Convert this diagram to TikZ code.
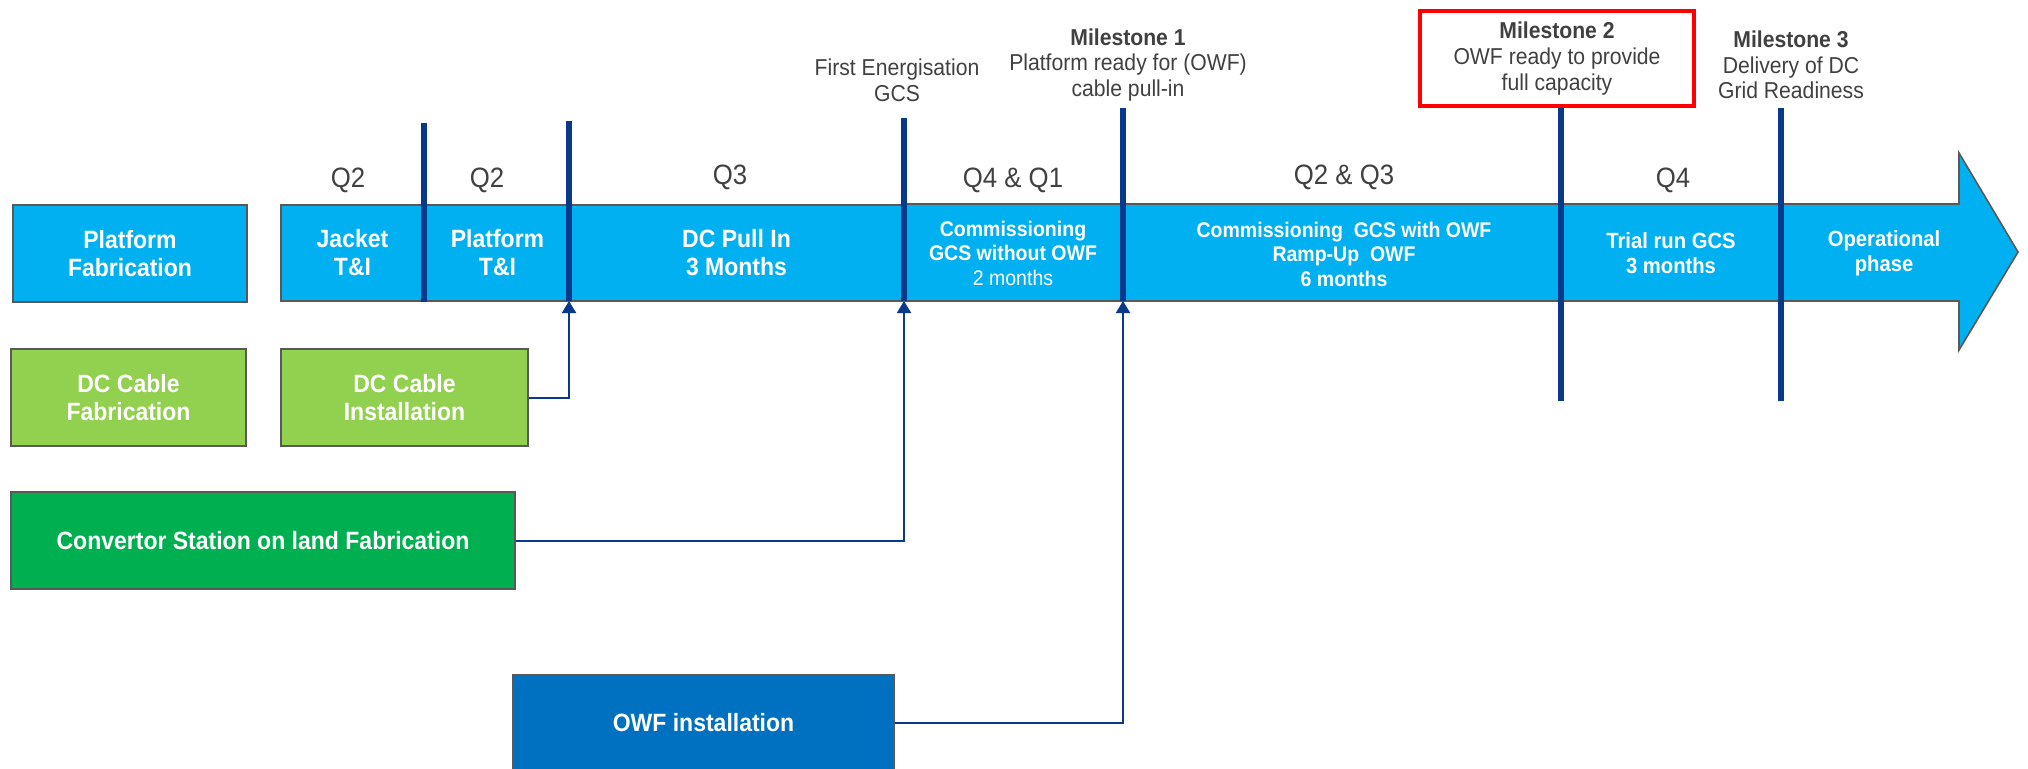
\documentclass[tikz,border=0pt]{standalone}
\usepackage{fontspec}
\setmainfont[FakeStretch=0.92]{Liberation Sans}
\usepackage{xcolor}
\usetikzlibrary{arrows.meta}
\definecolor{barblue}{HTML}{00B0F0}
\definecolor{lgreen}{HTML}{92D050}
\definecolor{dgreen}{HTML}{00B050}
\definecolor{owfblue}{HTML}{0070C0}
\definecolor{mkblue}{HTML}{08398A}
\definecolor{edgegray}{HTML}{595959}
\definecolor{labgray}{HTML}{404040}
\tikzset{taskbox/.style={draw=edgegray,line width=0.8pt,text=white,align=center,inner sep=0pt,
    font=\bfseries\fontsize{12.5}{14}\selectfont}}
\tikzset{barseg/.style={taskbox,fill=barblue,minimum height=48pt}}
\tikzset{bartext/.style={text=white,align=center,font=\bfseries\fontsize{10.6}{12.25}\selectfont}}
\tikzset{marker/.style={mkblue,line width=3pt}}
\tikzset{link/.style={mkblue,line width=1pt,-{Triangle[width=7pt,length=6pt]}}}
\tikzset{qlabel/.style={text=labgray,font=\fontsize{14}{16}\selectfont}}
\tikzset{mslabel/.style={text=labgray,align=center,font=\fontsize{11.5}{12.8}\selectfont}}

\begin{document}
\begin{tikzpicture}[x=0.5pt,y=-0.5pt]
    \useasboundingbox (0,0) rectangle (2028,768);

    % left column of tasks
    \node[taskbox,fill=barblue,minimum width=117pt,minimum height=48.5pt] (pfab) at (130,253.5) {Platform\\Fabrication};
    \node[taskbox,fill=lgreen,minimum width=117.5pt,minimum height=48.5pt] (dcfab) at (128.5,397.5) {DC Cable\\Fabrication};
    \node[taskbox,fill=lgreen,minimum width=123.5pt,minimum height=48.5pt] (dcinst) at (404.5,397.5) {DC Cable\\Installation};
    \node[taskbox,fill=dgreen,minimum width=252pt,minimum height=48.5pt] (convst) at (263,540.5) {Convertor Station on land Fabrication};
    \node[taskbox,fill=owfblue,minimum width=190.5pt,minimum height=48pt] (owf) at (703.5,723) {OWF installation};

    % the time bar
    \node[barseg,minimum width=71.5pt] (jacket) at (352.5,253) {Jacket\\T\&I};
    \node[barseg,minimum width=73.5pt] (pltti) at (497.5,253) {Platform\\T\&I};
    \node[barseg,minimum width=165.5pt] (pullin) at (736.5,253) {DC Pull In\\3 Months};
    \draw[draw=edgegray,line width=0.8pt,fill=barblue] (902,204) -- (1959,204) -- (1959,153) -- (2018,252)
        -- (1959,350) -- (1959,301) -- (902,301) -- cycle;

    \node[bartext] (comma) at (1013,253) {Commissioning\\GCS without OWF\\{\mdseries 2 months}};
    \node[bartext] (commb) at (1344,254) {Commissioning\ \ GCS with OWF\\Ramp-Up\ \ OWF\\6 months};
    \node[bartext,font=\bfseries\fontsize{11}{12.5}\selectfont] (trial) at (1671,253) {Trial run GCS\\3 months};
    \node[bartext,font=\bfseries\fontsize{11}{12.5}\selectfont] (oper) at (1884,253) {Operational\\phase};

    % milestone markers
    \coordinate (mka) at (424,302);
    \coordinate (mkb) at (569,301);
    \coordinate (mkc) at (904,301);
    \coordinate (mkd) at (1123,301);
    \coordinate (mke) at (1561,401);
    \coordinate (mkf) at (1781,401);
    \draw[marker] (424,123) -- (mka);
    \draw[marker] (569,121) -- (mkb);
    \draw[marker] (904,118) -- (mkc);
    \draw[marker] (1123,108) -- (mkd);
    \draw[marker] (1561,108) -- (mke);
    \draw[marker] (1781,108) -- (mkf);

    % links into the bar
    \draw[link] (dcinst.east) -| (mkb);
    \draw[link] (convst.east) -| (mkc);
    \draw[link] (owf.east) -| (mkd);

    % quarters
    \node[qlabel] (qa) at (348,180) {Q2};
    \node[qlabel] (qb) at (487,180) {Q2};
    \node[qlabel] (qc) at (730,177) {Q3};
    \node[qlabel] (qd) at (1013,180) {Q4 \& Q1};
    \node[qlabel] (qe) at (1344,177) {Q2 \& Q3};
    \node[qlabel] (qf) at (1673,180) {Q4};

    % milestones
    \node[mslabel] (firsten) at (897,80) {First Energisation\\GCS};
    \node[mslabel] (msa) at (1128,65) {\textbf{Milestone 1}\\Platform ready for (OWF)\\cable pull-in};
    \node[mslabel,draw=red,line width=2pt,minimum width=137pt,minimum height=47.5pt] (msb) at (1557,58.5)
        {\textbf{Milestone 2}\\OWF ready to provide\\full capacity};
    \node[mslabel] (msc) at (1791,65) {\textbf{Milestone 3}\\Delivery of DC\\Grid Readiness};
\end{tikzpicture}
\end{document}
